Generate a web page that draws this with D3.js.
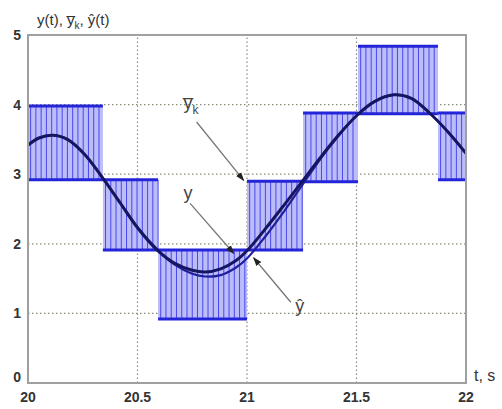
<!DOCTYPE html>
<html>
<head>
<meta charset="utf-8">
<script src="https://cdn.jsdelivr.net/npm/d3@7"></script>
<style>
  body { margin: 0; background: #fff; }
  svg { display: block; font-family: "Liberation Sans", Arial, sans-serif; }
</style>
</head>
<body>
<div id="chart"></div>
<script>
// step intervals (t boundaries) and band levels for each interval
const stepEdges = [20, 20.342, 20.594, 21.0, 21.256, 21.507, 21.872, 22];
const bandLow  = [2.92, 1.91, 0.92, 1.91, 2.89, 3.87, 2.92];
const bandHigh = [3.98, 2.92, 1.91, 2.90, 3.88, 4.84, 3.88];

// continuous signal y(t) and its estimate yhat(t)
const tValues = [20.00, 20.05, 20.11, 20.18, 20.26, 20.34, 20.42, 20.50, 20.59, 20.67, 20.75, 20.81, 20.88,
                 20.95, 21.00, 21.08, 21.17, 21.26, 21.34, 21.42, 21.50, 21.58, 21.67, 21.75, 21.83, 21.92, 22.00];
const yValues = [3.42, 3.52, 3.56, 3.50, 3.28, 2.95, 2.59, 2.23, 1.91, 1.72, 1.62, 1.595, 1.64,
                 1.76, 1.90, 2.20, 2.56, 2.93, 3.26, 3.57, 3.84, 4.04, 4.14, 4.09, 3.89, 3.60, 3.30];
const yHatValues = [3.42, 3.52, 3.56, 3.50, 3.28, 2.95, 2.60, 2.24, 1.92, 1.70, 1.57, 1.53, 1.55,
                    1.66, 1.79, 2.09, 2.47, 2.88, 3.24, 3.56, 3.84, 4.04, 4.14, 4.09, 3.89, 3.60, 3.30];

const xTicks = [20, 20.5, 21, 21.5, 22];
const yTicks = [0, 1, 2, 3, 4, 5];
const hatchStep = 0.024;

const W = 502, H = 409;
const margin = {top: 35, right: 36, bottom: 26, left: 28};

const svg = d3.select("#chart").append("svg")
    .attr("width", W)
    .attr("height", H);

const x = d3.scaleLinear().domain([20, 22]).range([margin.left, W - margin.right]);
const y = d3.scaleLinear().domain([0, 5]).range([H - margin.bottom, margin.top]);

// grid
svg.append("g").selectAll("line")
    .data(xTicks.slice(1, -1))
    .join("line")
    .attr("x1", d => x(d)).attr("x2", d => x(d))
    .attr("y1", y(0)).attr("y2", y(5))
    .attr("stroke", "#8a8a7a").attr("stroke-width", 1.2)
    .attr("stroke-dasharray", "1.5,2.5");
svg.append("g").selectAll("line")
    .data(yTicks.slice(1, -1))
    .join("line")
    .attr("y1", d => y(d)).attr("y2", d => y(d))
    .attr("x1", x(20)).attr("x2", x(22))
    .attr("stroke", "#8a8a7a").attr("stroke-width", 1.2)
    .attr("stroke-dasharray", "1.5,2.5");

// bands
const bands = bandLow.map((lo, i) => ({t0: stepEdges[i], t1: stepEdges[i + 1], lo, hi: bandHigh[i]}));
const bandG = svg.append("g");
bandG.selectAll("rect")
    .data(bands)
    .join("rect")
    .attr("x", d => x(d.t0))
    .attr("width", d => x(d.t1) - x(d.t0))
    .attr("y", d => y(d.hi))
    .attr("height", d => y(d.lo) - y(d.hi))
    .attr("fill", "#bcbcf8");

// vertical hatching inside each band
bands.forEach(b => {
    bandG.append("g").selectAll("line")
        .data(d3.range(b.t0 + hatchStep / 2, b.t1, hatchStep))
        .join("line")
        .attr("x1", d => x(d)).attr("x2", d => x(d))
        .attr("y1", y(b.lo)).attr("y2", y(b.hi))
        .attr("stroke", "#4848ee").attr("stroke-width", 1);
});

// band edges
["lo", "hi"].forEach(k => {
    bandG.append("g").selectAll("line")
        .data(bands)
        .join("line")
        .attr("x1", d => x(d.t0)).attr("x2", d => x(d.t1))
        .attr("y1", d => y(d[k])).attr("y2", d => y(d[k]))
        .attr("stroke", "#2424d8").attr("stroke-width", 3);
});

// curves
const line = d3.line()
    .x(d => x(d[0]))
    .y(d => y(d[1]))
    .curve(d3.curveCatmullRom);

svg.append("path")
    .datum(d3.zip(tValues, yHatValues))
    .attr("fill", "none")
    .attr("stroke", "#20209a")
    .attr("stroke-width", 2.2)
    .attr("d", line);

svg.append("path")
    .datum(d3.zip(tValues, yValues))
    .attr("fill", "none")
    .attr("stroke", "#161660")
    .attr("stroke-width", 3)
    .attr("d", line);

// frame
svg.append("rect")
    .attr("x", x(20)).attr("y", y(5))
    .attr("width", x(22) - x(20)).attr("height", y(0) - y(5))
    .attr("fill", "none")
    .attr("stroke", "#a0a0a0")
    .attr("stroke-width", 2);

// tick labels
svg.append("g").selectAll("text")
    .data(yTicks)
    .join("text")
    .attr("x", 21)
    .attr("y", d => y(d) + (d === 0 ? -1 : 5))
    .attr("text-anchor", "end")
    .attr("font-size", 14)
    .attr("font-weight", "bold")
    .attr("fill", "#333")
    .text(d => d);

svg.append("g").selectAll("text")
    .data(xTicks)
    .join("text")
    .attr("x", d => x(d))
    .attr("y", y(0) + 19)
    .attr("text-anchor", "middle")
    .attr("font-size", 14)
    .attr("font-weight", "bold")
    .attr("fill", "#333")
    .text(d => d);

// axis titles
const title = svg.append("text")
    .attr("x", 37).attr("y", 25)
    .attr("font-size", 15)
    .attr("fill", "#333");
title.append("tspan").text("y(t), ");
title.append("tspan").text("y\u0305");
title.append("tspan").attr("font-size", 10).attr("dy", 4).text("k");
title.append("tspan").attr("dy", -4).text(", \u0177(t)");

svg.append("text")
    .attr("x", 474).attr("y", 381)
    .attr("font-size", 16)
    .attr("fill", "#333")
    .text("t, s");

// annotations
svg.append("defs").append("marker")
    .attr("id", "arr")
    .attr("viewBox", "0 0 10 10")
    .attr("refX", 9).attr("refY", 5)
    .attr("markerWidth", 7).attr("markerHeight", 7)
    .attr("orient", "auto")
    .append("path")
    .attr("d", "M0,1.5L10,5L0,8.5Z")
    .attr("fill", "#222");

const notes = [
    {label: "ybar", lx: 20.71, ly: 3.93, from: [20.77, 3.75], to: [20.985, 2.91]},
    {label: "y", lx: 20.71, ly: 2.65, from: [20.74, 2.58], to: [20.94, 1.86]},
    {label: "yhat", lx: 21.22, ly: 1.02, from: [21.2, 1.16], to: [21.03, 1.80]}
];

notes.forEach(n => {
    svg.append("line")
        .attr("x1", x(n.from[0])).attr("y1", y(n.from[1]))
        .attr("x2", x(n.to[0])).attr("y2", y(n.to[1]))
        .attr("stroke", "#777").attr("stroke-width", 1.3)
        .attr("marker-end", "url(#arr)");
    const t = svg.append("text")
        .attr("x", x(n.lx)).attr("y", y(n.ly))
        .attr("font-size", 18)
        .attr("fill", "#444");
    if (n.label === "ybar") {
        t.append("tspan").text("y\u0305");
        t.append("tspan").attr("font-size", 12).attr("dy", 5).text("k");
    } else if (n.label === "yhat") {
        t.text("\u0177");
    } else {
        t.text("y");
    }
});
</script>
</body>
</html>
